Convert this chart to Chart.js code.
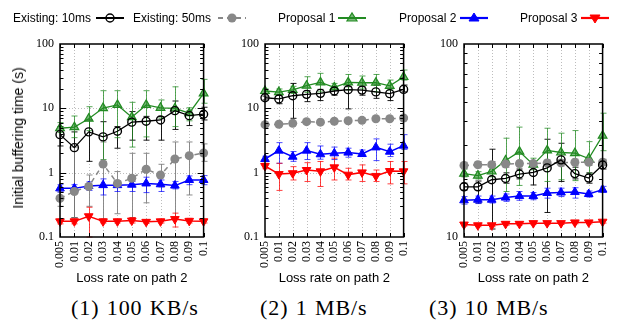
<!DOCTYPE html>
<html><head><meta charset="utf-8">
<script src="https://cdn.jsdelivr.net/npm/chart.js@4"></script>
<style>
html,body{margin:0;padding:0;background:#fff;width:625px;height:322px;overflow:hidden;position:relative}
canvas{position:absolute;top:0}
.t{position:absolute;white-space:nowrap;color:#000}
.leg{font-family:"Liberation Sans",Arial,sans-serif;font-size:12px;line-height:14px;top:11px}
.sym{position:absolute;top:10px}
.cap{font-family:"Liberation Serif",serif;font-size:22px;line-height:22px;top:297px;letter-spacing:0.9px;word-spacing:1px}
.ytitle{font-family:"Liberation Sans",Arial,sans-serif;font-size:14px;line-height:16px;left:18px;top:137.5px;transform:translate(-50%,-50%) rotate(-90deg)}
</style></head><body>
<canvas id="c1" width="202" height="290" style="left:20px"></canvas>
<canvas id="c2" width="197" height="290" style="left:225px"></canvas>
<canvas id="c3" width="197" height="290" style="left:424px"></canvas>
<div class="t ytitle">Initial buffering time (s)</div>
<div id="legend"></div>
<div id="caps"></div>
<script>
// ---------- data ----------
const categories = ['0.005','0.01','0.02','0.03','0.04','0.05','0.06','0.07','0.08','0.09','0.1'];
const seriesNames = ['Existing: 10ms','Existing: 50ms','Proposal 1','Proposal 2','Proposal 3'];
const panelTitles = ['(1) 100 KB/s','(2) 1 MB/s','(3) 10 MB/s'];
const xTitle = 'Loss rate on path 2';
const yTitle = 'Initial buffering time (s)';
const yTicksP1 = [0.1, 1, 10, 100];
const yTicksP2 = [0.1, 1, 10, 100];
const yTicksP3 = [10, 100];

// Panel 1: 100 KB/s
const p1Exist10   = [3.9, 2.45, 4.3, 3.6, 4.4, 6.1, 6.3, 6.6, 9.2, 7.7, 8.1];
const p1Exist10Lo = [2.6, 0.2, 1.5, 1.5, 2.4, 3.2, 3.2, 3.2, 4.7, 5.4, 6.6];
const p1Exist10Hi = [5.2, 4.3, 6.6, 6.2, 5.2, 8.9, 7.5, 7.4, 13.0, 9.1, 10.4];
const p1Exist50   = [0.40, 0.51, 0.61, 1.36, 0.68, 0.82, 1.13, 0.92, 1.63, 1.84, 2.02];
const p1Exist50Lo = [0.3, 0.2, 0.3, 0.19, 0.23, 0.2, 0.34, 0.6, 0.2, 0.45, 1.5];
const p1Exist50Hi = [0.5, 2.5, 0.92, 3.0, 1.04, 2.0, 2.0, 1.35, 3.0, 3.0, 2.8];
const p1Prop1     = [4.9, 5.1, 6.9, 10.1, 11.3, 7.3, 11.3, 10.2, 10.0, 8.4, 17.1];
const p1Prop1Lo   = [4.2, 3.5, 4.5, 1.6, 3.5, 2.5, 3.6, 7.0, 5.2, 6.4, 12.0];
const p1Prop1Hi   = [6.0, 7.6, 10.6, 18.8, 18.8, 12.4, 18.8, 13.5, 21.6, 10.2, 28.2];
const p1Prop2     = [0.57, 0.57, 0.62, 0.64, 0.64, 0.65, 0.68, 0.66, 0.63, 0.77, 0.77];
const p1Prop2Lo   = [0.5, 0.5, 0.53, 0.45, 0.51, 0.51, 0.49, 0.51, 0.56, 0.65, 0.65];
const p1Prop2Hi   = [0.65, 0.65, 0.72, 0.8, 0.75, 0.73, 0.85, 0.77, 0.73, 0.89, 0.9];
const p1Prop3     = [0.175, 0.175, 0.21, 0.175, 0.175, 0.18, 0.172, 0.175, 0.19, 0.178, 0.175];
const p1Prop3Lo   = [0.16, 0.16, 0.1, 0.165, 0.165, 0.165, 0.162, 0.165, 0.143, 0.165, 0.165];
const p1Prop3Hi   = [0.19, 0.19, 0.29, 0.19, 0.19, 0.2, 0.185, 0.19, 0.235, 0.195, 0.19];

// Panel 2: 1 MB/s
const p2Exist10   = [14.6, 14.0, 15.7, 16.5, 17.1, 18.6, 19.5, 19.2, 18.0, 16.9, 19.7];
const p2Exist10Lo = [13.5, 11.8, 7.0, 12.7, 13.2, 16.0, 9.8, 16.0, 14.3, 13.2, 18.0];
const p2Exist10Hi = [15.5, 16.0, 24.4, 18.8, 19.7, 21.7, 21.7, 21.7, 23.0, 20.5, 23.0];
const p2Exist50   = [5.57, 5.65, 5.84, 6.2, 6.1, 6.3, 6.4, 6.5, 6.9, 6.9, 7.07];
const p2Exist50Lo = [5.35, 5.4, 5.6, 5.95, 5.85, 6.05, 6.15, 6.25, 6.6, 6.6, 6.8];
const p2Exist50Hi = [5.8, 5.9, 6.1, 6.45, 6.35, 6.55, 6.65, 6.75, 7.2, 7.2, 7.35];
const p2Prop1     = [18.6, 17.9, 19.3, 22.5, 25.3, 21.2, 25.3, 25.0, 25.0, 22.4, 30.7];
const p2Prop1Lo   = [17.0, 16.0, 17.0, 17.7, 18.0, 19.8, 19.3, 20.0, 18.0, 19.3, 27.5];
const p2Prop1Hi   = [20.0, 20.0, 22.0, 31.0, 35.0, 24.4, 33.6, 31.8, 33.6, 27.5, 39.4];
const p2Prop2     = [1.63, 2.2, 1.77, 2.2, 1.93, 2.0, 2.05, 1.95, 2.47, 2.12, 2.63];
const p2Prop2Lo   = [1.5, 1.4, 1.5, 1.6, 1.62, 1.6, 1.74, 1.78, 1.54, 1.78, 2.3];
const p2Prop2Hi   = [1.8, 2.93, 2.13, 2.93, 2.6, 2.5, 2.4, 2.25, 3.35, 2.77, 3.9];
const p2Prop3     = [1.27, 0.95, 0.98, 1.10, 1.05, 1.21, 0.93, 1.01, 0.89, 1.06, 1.05];
const p2Prop3Lo   = [1.15, 0.53, 0.77, 0.73, 0.61, 0.77, 0.77, 0.73, 0.73, 0.67, 0.67];
const p2Prop3Hi   = [1.4, 1.4, 1.24, 1.43, 1.49, 1.68, 1.17, 1.32, 1.1, 1.49, 1.49];

// Panel 3: 10 MB/s
const p3Exist10   = [18.2, 18.2, 19.8, 20.1, 21.2, 21.6, 22.8, 25.1, 21.3, 20.2, 23.6];
const p3Exist10Lo = [17.5, 15.0, 11.0, 19.0, 20.0, 18.6, 13.4, 19.4, 20.0, 19.0, 22.5];
const p3Exist10Hi = [19.0, 19.5, 28.5, 21.5, 22.5, 23.7, 32.1, 30.6, 23.0, 21.5, 25.0];
const p3Exist50   = [23.5, 23.7, 23.7, 23.9, 24.0, 24.0, 24.2, 24.2, 24.4, 24.4, 24.4];
const p3Exist50Lo = [22.6, 22.8, 22.8, 23.0, 23.1, 23.1, 23.3, 23.3, 23.5, 23.5, 23.5];
const p3Exist50Hi = [24.4, 24.6, 24.6, 24.8, 24.9, 24.9, 25.1, 25.1, 25.3, 25.3, 25.3];
const p3Prop1     = [21.3, 20.8, 21.9, 24.9, 27.7, 23.7, 28.1, 27.4, 27.2, 25.5, 33.5];
const p3Prop1Lo   = [20.5, 20.0, 20.5, 17.2, 18.5, 22.3, 19.4, 19.8, 19.6, 21.4, 28.0];
const p3Prop1Hi   = [22.5, 21.8, 23.5, 32.5, 37.1, 25.6, 36.6, 34.5, 35.6, 31.2, 43.8];
const p3Prop2     = [15.5, 15.6, 15.6, 16.0, 16.3, 16.3, 16.9, 17.0, 17.1, 16.7, 17.6];
const p3Prop2Lo   = [14.8, 14.9, 15.0, 15.3, 15.5, 15.6, 15.9, 16.2, 15.9, 16.1, 17.0];
const p3Prop2Hi   = [16.2, 16.3, 16.3, 16.7, 17.2, 17.0, 17.9, 17.9, 18.0, 17.3, 18.3];
const p3Prop3     = [11.6, 11.5, 11.5, 11.7, 11.7, 11.8, 11.8, 11.8, 11.9, 11.9, 12.0];
const p3Prop3Lo   = [11.4, 11.3, 11.3, 11.5, 11.5, 11.6, 11.6, 11.6, 11.7, 11.7, 11.8];
const p3Prop3Hi   = [11.8, 11.7, 11.7, 11.9, 11.9, 12.0, 12.0, 12.0, 12.1, 12.1, 12.2];

// ---------- styles ----------
const GREEN = '#228b22';
const styles = [
  {color:'#000000', err:'rgba(0,0,0,0.9)', pointStyle:'circle', radius:4, bg:'rgba(255,255,255,0)', bw:1.4, lw:1.3, dash:[], rot:0},
  {color:'#888888', err:'rgba(128,128,128,0.9)', pointStyle:'circle', radius:4.5, bg:'#888888', bw:0, lw:1.5, dash:[5,4], rot:0},
  {color:GREEN, err:'rgba(34,139,34,0.75)', pointStyle:'triangle', radius:5, bg:'rgba(34,139,34,0.6)', bw:1.2, lw:1.3, dash:[], rot:0},
  {color:'#0000ff', err:'rgba(0,0,255,0.7)', pointStyle:'triangle', radius:5, bg:'#0000ff', bw:1, lw:1.5, dash:[], rot:0},
  {color:'#ff0000', err:'rgba(255,0,0,0.75)', pointStyle:'triangle', radius:5, bg:'#ff0000', bw:1, lw:1.5, dash:[], rot:180}
];

const deco = {
  id:'deco',
  beforeDatasetsDraw(chart, args, opts){
    const {ctx, chartArea:a, scales:{x, y}} = chart;
    ctx.save();
    ctx.strokeStyle = '#bdbdbd'; ctx.lineWidth = 1; ctx.setLineDash([1,2]);
    ctx.beginPath();
    for (let i = 1; i < x.ticks.length - 1; i++) {
      const px = Math.round(x.getPixelForTick(i)) + 0.5;
      ctx.moveTo(px, a.top); ctx.lineTo(px, a.bottom);
    }
    for (const v of opts.decades) {
      if (v > y.min && v < y.max) {
        const py = Math.round(y.getPixelForValue(v)) + 0.5;
        ctx.moveTo(a.left, py); ctx.lineTo(a.right, py);
      }
    }
    ctx.stroke();
    ctx.setLineDash([]);
    // error bars
    chart.data.datasets.forEach((ds) => {
      ctx.strokeStyle = ds.errColor; ctx.lineWidth = 1;
      ctx.beginPath();
      ds.data.forEach((v, i) => {
        const px = Math.round(x.getPixelForValue(i)) + 0.5;
        const lo = y.getPixelForValue(ds.errLo[i]);
        const hi = y.getPixelForValue(ds.errHi[i]);
        ctx.moveTo(px, lo); ctx.lineTo(px, hi);
        ctx.moveTo(px - 3, lo); ctx.lineTo(px + 3, lo);
        ctx.moveTo(px - 3, hi); ctx.lineTo(px + 3, hi);
      });
      ctx.stroke();
    });
    ctx.restore();
  },
  afterDatasetsDraw(chart, args, opts){
    const {ctx, chartArea:a, scales:{x, y}} = chart;
    ctx.save();
    ctx.strokeStyle = '#000'; ctx.lineWidth = 1;
    ctx.beginPath();
    // y ticks (major + minor), inside, both sides
    for (let d = y.min; d < y.max * 0.999; d *= 10) {
      for (let k = 1; k <= 9; k++) {
        const v = d * k;
        if (v <= y.min * 1.0001 || v >= y.max * 0.9999) continue;
        const py = Math.round(y.getPixelForValue(v)) + 0.5;
        const len = k === 1 ? 6 : 3.5;
        ctx.moveTo(a.left, py); ctx.lineTo(a.left + len, py);
        ctx.moveTo(a.right, py); ctx.lineTo(a.right - len, py);
      }
    }
    // x ticks inside top and bottom
    for (let i = 0; i < x.ticks.length; i++) {
      const px = Math.round(x.getPixelForTick(i)) + 0.5;
      ctx.moveTo(px, a.bottom); ctx.lineTo(px, a.bottom - 4);
      ctx.moveTo(px, a.top); ctx.lineTo(px, a.top + 4);
    }
    ctx.stroke();
    ctx.lineWidth = 1.5;
    ctx.strokeRect(a.left, a.top, a.right - a.left, a.bottom - a.top);
    ctx.restore();
  }
};

function makeDatasets(vals, los, his) {
  return vals.map((v, i) => {
    const s = styles[i];
    return {
      label: seriesNames[i], data: v, errLo: los[i], errHi: his[i], errColor: s.err,
      borderColor: s.color, borderWidth: s.lw, borderDash: s.dash,
      pointStyle: s.pointStyle, pointRadius: s.radius, pointRotation: s.rot,
      pointBackgroundColor: s.bg, pointBorderColor: s.color, pointBorderWidth: s.bw,
      fill: false, tension: 0, clip: false
    };
  });
}

function makeChart(id, vals, los, his, yMin, yMax, yTicks) {
  new Chart(document.getElementById(id), {
    type: 'line',
    data: {labels: categories, datasets: makeDatasets(vals, los, his)},
    options: {
      responsive: false, animation: false, devicePixelRatio: 1,
      layout: {padding: {top: 44, right: 8, left: 0, bottom: 0}},
      plugins: {legend: {display: false}, tooltip: {enabled: false}, deco: {decades: yTicks}},
      scales: {
        x: {
          type: 'category', offset: false,
          grid: {display: false, drawTicks: false}, border: {display: false},
          ticks: {autoSkip: false, minRotation: 90, maxRotation: 90, padding: 4, color: '#000',
                  font: {family: '"Liberation Serif", serif', size: 12}},
          title: {display: true, text: xTitle, color: '#000', padding: {top: 2, bottom: 4},
                  font: {family: '"Liberation Sans", Arial, sans-serif', size: 13}},
          afterFit(s) { s.height = 53; }
        },
        y: {
          type: 'logarithmic', min: yMin, max: yMax,
          grid: {display: false, drawTicks: false}, border: {display: false},
          afterBuildTicks(s) { s.ticks = yTicks.map(v => ({value: v})); },
          ticks: {autoSkip: false, padding: 6, color: '#000',
                  font: {family: '"Liberation Serif", serif', size: 12},
                  callback: (v) => String(v)},
          afterFit(s) { s.width = 40; }
        }
      }
    },
    plugins: [deco]
  });
}

makeChart('c1',
  [p1Exist10, p1Exist50, p1Prop1, p1Prop2, p1Prop3],
  [p1Exist10Lo, p1Exist50Lo, p1Prop1Lo, p1Prop2Lo, p1Prop3Lo],
  [p1Exist10Hi, p1Exist50Hi, p1Prop1Hi, p1Prop2Hi, p1Prop3Hi], 0.1, 100, yTicksP1);
makeChart('c2',
  [p2Exist10, p2Exist50, p2Prop1, p2Prop2, p2Prop3],
  [p2Exist10Lo, p2Exist50Lo, p2Prop1Lo, p2Prop2Lo, p2Prop3Lo],
  [p2Exist10Hi, p2Exist50Hi, p2Prop1Hi, p2Prop2Hi, p2Prop3Hi], 0.1, 100, yTicksP2);
makeChart('c3',
  [p3Exist10, p3Exist50, p3Prop1, p3Prop2, p3Prop3],
  [p3Exist10Lo, p3Exist50Lo, p3Prop1Lo, p3Prop2Lo, p3Prop3Lo],
  [p3Exist10Hi, p3Exist50Hi, p3Prop1Hi, p3Prop2Hi, p3Prop3Hi], 10, 100, yTicksP3);

// ---------- legend (HTML text + SVG key) ----------
const legTextX = [13, 133, 278, 399, 520];
const legSymX = [96, 218, 338, 460, 581];
const legend = document.getElementById('legend');
function symSvg(i) {
  const s = styles[i];
  let marker = '';
  if (s.pointStyle === 'circle') {
    marker = `<circle cx="14" cy="8" r="${s.radius}" fill="${s.bw ? 'none' : s.bg}" stroke="${s.bw ? s.color : 'none'}" stroke-width="${s.bw}"/>`;
  } else {
    const r = s.radius;
    const pts = s.rot ? `${14-r},${8-r*0.6} ${14+r},${8-r*0.6} 14,${8+r}` : `${14-r},${8+r*0.6} ${14+r},${8+r*0.6} 14,${8-r}`;
    marker = `<polygon points="${pts}" fill="${s.bg}" stroke="${s.color}" stroke-width="${s.bw}"/>`;
  }
  const dash = s.dash.length ? `stroke-dasharray="${s.dash.join(',')}"` : '';
  return `<svg width="28" height="16" viewBox="0 0 28 16"><line x1="0" y1="8" x2="28" y2="8" stroke="${s.color}" stroke-width="${s.lw + 0.7}" ${dash}/>${marker}</svg>`;
}
seriesNames.forEach((n, i) => {
  const t = document.createElement('div');
  t.className = 't leg'; t.style.left = legTextX[i] + 'px'; t.textContent = n;
  legend.appendChild(t);
  const sv = document.createElement('div');
  sv.className = 'sym'; sv.style.left = legSymX[i] + 'px'; sv.innerHTML = symSvg(i);
  legend.appendChild(sv);
});

// ---------- sub-captions ----------
const capX = [71, 260, 429];
const caps = document.getElementById('caps');
panelTitles.forEach((p, i) => {
  const d = document.createElement('div');
  d.className = 't cap'; d.style.left = capX[i] + 'px'; d.textContent = p;
  caps.appendChild(d);
});
</script>
</body></html>
